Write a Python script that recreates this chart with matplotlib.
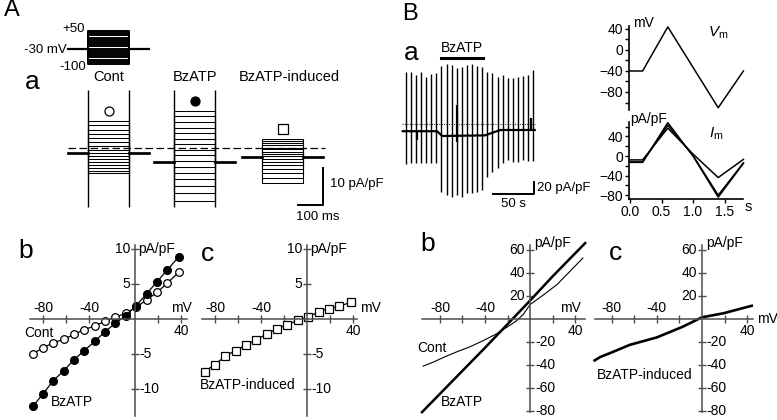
import numpy as np
import matplotlib
matplotlib.use('Agg')
import matplotlib.pyplot as plt

plt.rcParams['font.family'] = ['Liberation Sans', 'DejaVu Sans']
plt.rcParams['font.size'] = 10
plt.rcParams['mathtext.fontset'] = 'custom'
plt.rcParams['mathtext.rm'] = 'Liberation Sans'
plt.rcParams['mathtext.it'] = 'Liberation Sans:italic'

W, H = 777, 420

# ---------------- data ----------------
# A a: step protocol and current families (pA/pF)
step_mv = [-100, -90, -80, -70, -60, -50, -40, -30, -20, -10, 0, 10, 20, 30, 40, 50]
hold_mv = -30
cont_levels = [-6.8, -6.1, -5.4, -4.6, -3.8, -3.0, -2.2, -1.3, -0.4, 0.6, 1.7, 2.8, 3.9, 5.0, 6.2, 7.4]
bz_levels = [-14.2, -12.0, -10.1, -8.3, -6.6, -5.0, -3.4, -1.9, -0.4, 1.1, 2.6, 4.1, 5.6, 7.1, 8.6, 10.2]
ind_levels = [-9.4, -7.9, -6.6, -5.5, -4.6, -3.7, -2.9, -2.2, -1.5, -0.9, -0.3, 0.2, 0.8, 1.3, 1.9, 2.5]
hold_cur = {'Cont': -1.2, 'BzATP': -3.7, 'BzATP-induced': -2.3}
pre_ms, step_ms, post_ms = 80, 165, 80
cap_clip = 15.8  # capacitive transients, off scale

# A b, c: step I-V
iv_mv = [-89, -80, -71, -62, -53, -44, -35, -26, -17, -8, 1, 10, 19, 28, 38]
iv_cont = [-5.0, -4.1, -3.4, -2.9, -2.2, -1.5, -1.0, -0.3, 0.3, 0.8, 1.7, 2.7, 3.8, 5.1, 6.7]
iv_bz = [-12.5, -10.7, -8.8, -7.4, -5.8, -4.5, -3.2, -1.8, -0.6, 0.5, 1.9, 3.6, 5.3, 7.0, 8.9]
iv_ind = [-7.5, -6.5, -5.3, -4.5, -3.7, -3.0, -2.1, -1.4, -0.8, -0.2, 0.3, 1.0, 1.5, 1.8, 2.4]

# B a: time course of ramp currents
sweep_t = [0, 6, 12, 18, 25, 31, 37, 43, 50, 56, 62, 68, 74, 81, 87, 93,
           99, 105, 112, 118, 124, 130, 136, 143, 149, 155]
ramp_top = [87, 87, 82, 87, 78, 83, 85, 97, 100, 98, 93, 95, 98, 100, 97, 95,
            87, 85, 78, 82, 77, 77, 78, 80, 82, 90]
ramp_bot = [-67, -65, -65, -65, -65, -65, -65, -113, -118, -122, -118, -122, -115, -115, -113, -110,
            -88, -80, -73, -65, -60, -63, -63, -60, -62, -62]
hold_t = [-4, 38, 44, 96, 115, 157]
hold_v = [-12, -12, -20, -19, -10, -10]
event_t = [13, 62, 152]
event_lo = [-27, -30, -10]
event_hi = [-12, 32, 10]
bz_on, bz_off = 43, 94

# B: ramp protocol and currents
ramp_t = [0, 0.2, 0.6, 1.4, 1.8]
ramp_mv = [-40, -40, 44, -110, -40]
im_t = [0, 0.2, 0.6, 1.0, 1.4, 1.8]
im_traces = [[-8, -8, 57, 4, -44, -7],
             [-12, -12, 63, 1, -80, -14],
             [-13, -13, 68, 0, -84, -15]]

# B b, c: ramp I-V
rb_cont_mv = [-95, -86, -76, -65, -53, -42, -30, -18, -12, -6, 0, 12, 24, 36, 47]
rb_cont = [-41, -37.5, -33, -28.5, -24, -19, -13, -5.5, -1.5, 4, 12.5, 21, 30, 42, 53]
rb_bz_mv = [-96, -70, -40, -20, 0, 20, 49]
rb_bz = [-81, -55, -25, -4.5, 16, 37, 66]
rc_mv = [-95, -90, -81, -64, -40, -17, 0, 19, 44]
rc_ind = [-36, -33, -29.5, -22.5, -16, -6.7, 1.5, 5, 11.5]

axis_col = '#4d4d4d'


def rect(x0, y0, x1, y1):
    return [x0 / W, 1 - y1 / H, (x1 - x0) / W, (y1 - y0) / H]


def ftext(x, y, s, **kw):
    kw.setdefault('ha', 'center')
    kw.setdefault('va', 'center')
    fig.text(x / W, 1 - y / H, s, **kw)


def iv_axes(ax, xb, yb, xticks, yticks, xlab, ylab):
    # axes crossing at the origin, labels placed by hand
    for s in ['top', 'right']:
        ax.spines[s].set_visible(False)
    for s in ['left', 'bottom']:
        ax.spines[s].set_position('zero')
        ax.spines[s].set_color(axis_col)
        ax.spines[s].set_linewidth(1.1)
    ax.spines['bottom'].set_bounds(*xb)
    ax.spines['left'].set_bounds(*yb)
    ax.set_xticks(xticks)
    ax.set_yticks(yticks)
    ax.tick_params(direction='inout', length=6, width=1.0, color=axis_col,
                   labelleft=False, labelbottom=False)
    ax.patch.set_visible(False)
    for v in xlab:
        if v < 0:
            ax.annotate(str(v), (v, 0), xytext=(0, 3), textcoords='offset points',
                        ha='center', va='bottom')
        else:
            ax.annotate(str(v), (v, 0), xytext=(0, -3.5), textcoords='offset points',
                        ha='center', va='top')
    for v in ylab:
        if v > 0:
            ax.annotate(str(v), (0, v), xytext=(-3.5, 0), textcoords='offset points',
                        ha='right', va='center')
        else:
            ax.annotate(str(v), (0, v), xytext=(3.5, 0), textcoords='offset points',
                        ha='left', va='center')


fig = plt.figure(figsize=(W / 100, H / 100), dpi=100)

# ---------------- A a ----------------
axp = fig.add_axes(rect(60, 25, 160, 70))
axp.set_xlim(-32, 368)
axp.set_ylim(-127.3, 77.3)
axp.axis('off')
t_sw = [0, pre_ms, pre_ms, pre_ms + step_ms, pre_ms + step_ms, pre_ms + step_ms + post_ms]
for v in step_mv:
    axp.plot(t_sw, [hold_mv, hold_mv, v, v, hold_mv, hold_mv], color='k', lw=1.4)
axp.plot([0, pre_ms], [hold_mv, hold_mv], color='k', lw=1.6)
axp.plot(t_sw[-2:], [hold_mv, hold_mv], color='k', lw=1.6)
axp.annotate('+50', (pre_ms, max(step_mv)), xytext=(-2, 1.5), textcoords='offset points',
             ha='right', va='center', fontsize=9.5)
axp.annotate('-100', (pre_ms, min(step_mv)), xytext=(-1, -2), textcoords='offset points',
             ha='right', va='center', fontsize=9.5)
axp.annotate('-30 mV', (0, hold_mv), xytext=(-1, -1), textcoords='offset points',
             ha='right', va='center', fontsize=9.5)

ax = fig.add_axes(rect(60, 85, 345, 215))
ax.set_xlim(-32, 1108)
ax.set_ylim(-18.03, 17.1)
ax.axis('off')

families = [('Cont', 0, cont_levels, 'o', 'white'),
            ('BzATP', 344, bz_levels, 'o', 'black'),
            ('BzATP-induced', 696, ind_levels, 's', 'white')]
for name, t0, levels, mk, fc in families:
    h = hold_cur[name]
    tt = [t0 + x for x in t_sw]
    for lv in levels:
        ax.plot(tt, [h, h, lv, lv, h, h], color='k', lw=0.75)
    ax.plot(tt[:2], [h, h], color='k', lw=1.9)
    ax.plot(tt[-2:], [h, h], color='k', lw=1.9)
    if name != 'BzATP-induced':
        ax.vlines([tt[1], tt[3]], -cap_clip, cap_clip, color='k', lw=1.0)
    mid = t0 + pre_ms + step_ms / 2
    ax.plot(mid, max(levels) + 2.6, marker=mk, ms=6.5, mfc=fc, mec='k', mew=0.9)
    dx = 25 if name == 'BzATP-induced' else 0
    ax.text(mid + dx, 19.3, name, ha='center', va='center', fontsize=10.5, clip_on=False)

# zero current
ax.plot([0, 1028], [0, 0], color='k', lw=0.9, dashes=(6, 2.8))
# scale bars
ax.plot([920, 1020, 1020], [-15.3, -15.3, -5.3], color='k', lw=1.4)
ax.text(1048, -9.6, '10 pA/pF', ha='left', va='center', fontsize=9.5)
ax.text(1000, -18.7, '100 ms', ha='center', va='center', fontsize=9.5, clip_on=False)

# ---------------- A b ----------------
ax = fig.add_axes(rect(25, 240, 195, 420))
ax.set_xlim(-95.65, 52.17)
ax.set_ylim(-14.43, 11.29)
iv_axes(ax, (-91, 45), (-13.9, 10.6), [-80, -60, -40, -20, 20, 40], [-10, -5, 5, 10],
        [-80, -40, 40], [10, 5, -5, -10])
ax.plot(iv_mv, iv_cont, color='k', lw=0.9, marker='o', ms=5.5, mfc='white', mec='k', mew=0.9)
ax.plot(iv_mv, iv_bz, color='k', lw=0.9, marker='o', ms=5.5, mfc='black', mec='k')
ax.annotate('pA/pF', (0, 10), xytext=(2.5, 0), textcoords='offset points', ha='left', va='center')
ax.annotate('mV', (40, 0), xytext=(0, 3), textcoords='offset points', ha='center', va='bottom')
ax.text(-83.5, -2.0, 'Cont', ha='center', va='center')
ax.text(-54.8, -11.9, 'BzATP', ha='center', va='center')

# ---------------- A c ----------------
ax = fig.add_axes(rect(197, 240, 367, 420))
ax.set_xlim(-95.65, 52.17)
ax.set_ylim(-14.43, 11.29)
iv_axes(ax, (-91, 43.5), (-13.9, 10.6), [-80, -60, -40, -20, 20, 40], [-10, -5, 5, 10],
        [-80, -40, 40], [10, 5, -5, -10])
ax.plot(iv_mv, iv_ind, color='k', lw=0.9, marker='s', ms=5.5, mfc='white', mec='k', mew=0.9)
ax.annotate('pA/pF', (0, 10), xytext=(2.5, 0), textcoords='offset points', ha='left', va='center')
ax.annotate('mV', (43.5, 0), xytext=(2, 3), textcoords='offset points', ha='left', va='bottom')
ax.text(-51.7, -9.4, 'BzATP-induced', ha='center', va='center')

# ---------------- B a ----------------
ax = fig.add_axes(rect(400, 55, 545, 205))
ax.set_xlim(-7.3, 169.5)
ax.set_ylim(-135, 115)
ax.axis('off')
ax.plot([-5, 157], [0, 0], color='#333333', lw=0.8, ls=(0, (1, 1.2)))
ax.vlines(sweep_t, ramp_bot, ramp_top, color='k', lw=1.0)
ax.plot(hold_t, hold_v, color='k', lw=1.6)
ax.vlines(event_t, event_lo, event_hi, color='k', lw=1.6)
ax.plot([bz_on, bz_off], [110, 110], color='k', lw=2.2)
ax.text((bz_on + bz_off) / 2, 126, 'BzATP', ha='center', va='center', fontsize=10, clip_on=False)
ax.plot([106, 156, 156], [-117, -117, -97], color='k', lw=1.4)
ax.text(160, -107, '20 pA/pF', ha='left', va='center', fontsize=9.5)
ax.text(130.5, -133, '50 s', ha='center', va='center', fontsize=9.5, clip_on=False)

# ---------------- B Vm / Im ----------------
axv = fig.add_axes(rect(629, 20, 756, 115))
axv.set_xlim(-0.016, 2.0)
axv.set_ylim(-123.8, 57.1)
axv.plot(ramp_t, ramp_mv, color='k', lw=1.1)
for s in ['top', 'right', 'bottom']:
    axv.spines[s].set_visible(False)
axv.spines['left'].set_bounds(-114, 46)
axv.spines['left'].set_linewidth(1.2)
axv.set_xticks([])
axv.set_yticks([40, 0, -40, -80])
axv.set_yticks([20, -20, -60, -100], minor=True)
axv.tick_params(axis='y', which='both', direction='out', length=3, width=1.0, pad=1.5)
axv.patch.set_visible(False)
axv.text(0.05, 52, 'mV', ha='left', va='center')
axv.text(1.40, 32, r'$V_{\rm m}$', ha='center', va='center', fontsize=11)

axi = fig.add_axes(rect(629, 118, 756, 199))
axi.set_xlim(-0.016, 2.0)
axi.set_ylim(-87.8, 77.6)
for tr in im_traces:
    axi.plot(im_t, tr, color='k', lw=1.1)
for s in ['top', 'right']:
    axi.spines[s].set_visible(False)
axi.spines['left'].set_bounds(-87.8, 69)
axi.spines['bottom'].set_bounds(-0.016, 1.8)
axi.spines['left'].set_linewidth(1.2)
axi.spines['bottom'].set_linewidth(1.2)
axi.set_yticks([40, 0, -40, -80])
axi.set_yticks([60, 20, -20, -60], minor=True)
axi.set_xticks([0, 0.5, 1.0, 1.5])
axi.set_xticklabels(['0.0', '0.5', '1.0', '1.5'])
axi.tick_params(which='both', direction='out', length=3, width=1.0, pad=1.5)
axi.patch.set_visible(False)
axi.text(0.0, 76, 'pA/pF', ha='left', va='center')
axi.text(1.37, 45, r'$I_{\rm m}$', ha='center', va='center', fontsize=11)
axi.annotate('s', (1.8, -87.8), xytext=(1, -1), textcoords='offset points',
             ha='left', va='top', fontsize=10.5)

# ---------------- B b ----------------
ax = fig.add_axes(rect(415, 240, 590, 420))
ax.set_xlim(-102.2, 53.3)
ax.set_ylim(-87.8, 68.7)
iv_axes(ax, (-96, 49), (-81, 64), [-80, -60, -40, -20, 20, 40],
        [-80, -60, -40, -20, 20, 40, 60], [-80, -40, 40], [60, 40, 20, -20, -40, -60, -80])
ax.plot(rb_cont_mv, rb_cont, color='k', lw=0.8)
ax.plot(rb_bz_mv, rb_bz, color='k', lw=1.8)
ax.annotate('pA/pF', (0, 64), xytext=(3, 2), textcoords='offset points', ha='left', va='center')
ax.annotate('mV', (36, 0), xytext=(0, 3), textcoords='offset points', ha='center', va='bottom')
ax.text(-87, -25.2, 'Cont', ha='center', va='center')
ax.text(-60.4, -72.2, 'BzATP', ha='center', va='center')

# ---------------- B c ----------------
ax = fig.add_axes(rect(590, 240, 770, 420))
ax.set_xlim(-99.1, 60.2)
ax.set_ylim(-87.8, 68.7)
iv_axes(ax, (-94.7, 45.1), (-81, 64), [-80, -60, -40, -20, 20, 40],
        [-80, -60, -40, -20, 20, 40, 60], [-80, -40, 40], [60, 40, 20, -20, -40, -60, -80])
ax.plot(rc_mv, rc_ind, color='k', lw=1.9)
ax.annotate('pA/pF', (0, 64), xytext=(3, 2), textcoords='offset points', ha='left', va='center')
ax.annotate('mV', (45.1, 0), xytext=(3, 0), textcoords='offset points', ha='left', va='center')
ax.text(-50.4, -48.7, 'BzATP-induced', ha='center', va='center')

# panel letters
ftext(12, 10, 'A', fontsize=17)
ftext(410, 14, 'B', fontsize=17)
ftext(32, 82, 'a', fontsize=19)
ftext(26, 251, 'b', fontsize=19)
ftext(207, 254, 'c', fontsize=19)
ftext(411, 53, 'a', fontsize=19)
ftext(428, 244, 'b', fontsize=19)
ftext(616, 253, 'c', fontsize=19)

fig.savefig('out.png', dpi=100)
